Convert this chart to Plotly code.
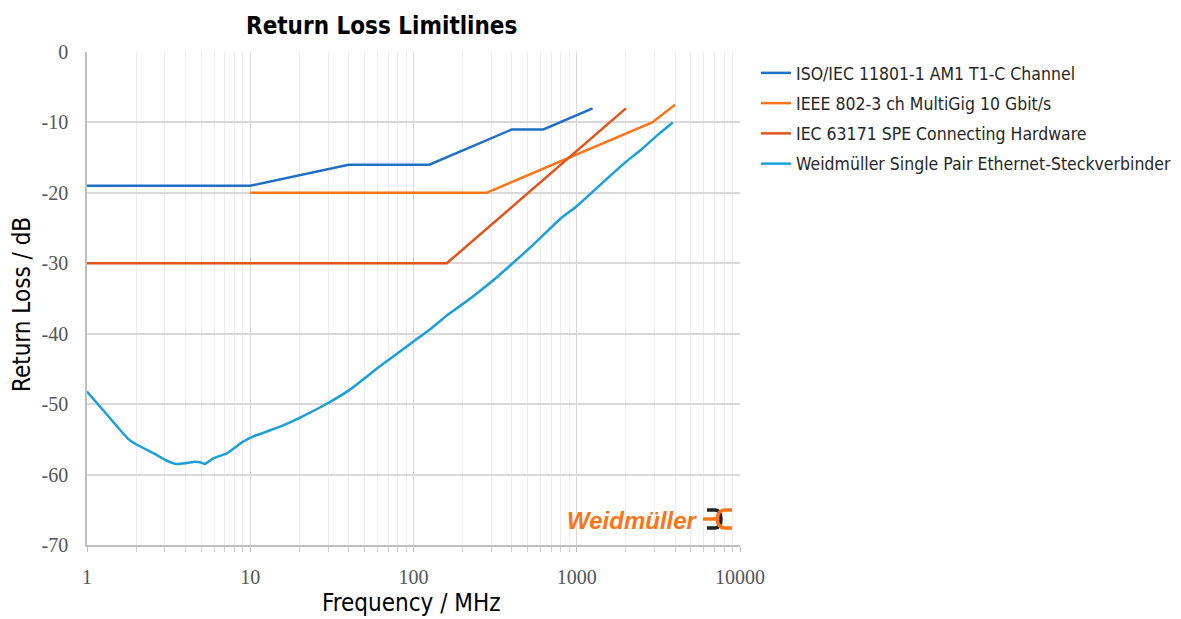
import plotly.graph_objects as go

# ---- data ----
iso_f = [1, 10, 40, 125, 400, 625, 1250]
iso_rl = [-19, -19, -16, -16, -11, -11, -8]

ieee_f = [10, 280, 2900, 4000]
ieee_rl = [-20, -20, -10, -7.5]

iec_f = [1, 160, 2000]
iec_rl = [-30, -30, -8]

wm_f = [1, 1.26, 1.67, 1.8, 2.0, 2.67, 3.0, 3.54, 4.0, 4.48, 5.0, 5.28, 5.94, 7.17, 9.06, 10.4,
        12.6, 15.2, 20.2, 30.2, 41, 62.5, 100, 126, 160, 200, 250, 316, 400, 500, 630, 800,
        1000, 1260, 1600, 2000, 2500, 3160, 3875]
wm_rl = [-48.2, -50.9, -54.2, -55.0, -55.7, -57.2, -57.9, -58.5, -58.4, -58.2, -58.3, -58.5,
         -57.7, -57.0, -55.3, -54.6, -53.9, -53.2, -51.9, -49.8, -47.9, -44.6, -41.1, -39.4,
         -37.4, -35.8, -34.1, -32.2, -30.1, -28.1, -25.9, -23.6, -21.9, -19.8, -17.6, -15.6,
         -13.8, -11.7, -10.0]

names = ["ISO/IEC 11801-1 AM1 T1-C Channel",
         "IEEE 802-3 ch MultiGig 10 Gbit/s",
         "IEC 63171 SPE Connecting Hardware",
         "Weidmüller Single Pair Ethernet-Steckverbinder"]
colors = ["#1F6FC5", "#FF7417", "#E0541B", "#1A9FD9"]

x_ticks = [1, 10, 100, 1000, 10000]
x_ticklabels = ["1", "10", "100", "1000", "10000"]
x_minor = [m * d for d in [1, 10, 100, 1000] for m in range(2, 10)]
y_ticks = [0, -10, -20, -30, -40, -50, -60, -70]
y_ticklabels = ["0", "-10", "-20", "-30", "-40", "-50", "-60", "-70"]

NARROW = "Liberation Sans Narrow, Arial Narrow, DejaVu Sans Condensed, sans-serif"
SERIF = "Liberation Serif, DejaVu Serif, serif"

fig = go.Figure()
for i, (f, rl, n, c) in enumerate(zip([iso_f, ieee_f, iec_f, wm_f], [iso_rl, ieee_rl, iec_rl, wm_rl],
                                      names, colors)):
    line = dict(color=c, width=2.5)
    if i == 3:
        line.update(shape="spline", smoothing=0.5)
    fig.add_trace(go.Scatter(x=f, y=rl, name=n, mode="lines", line=line, legendgroup=n))

# page offset (default body margin of the html page)
OFF = 8
FIG_W, FIG_H = 1181 - OFF, 619 - OFF
# plot area in page pixels
L, R, T, B = 87, 740, 52, 545
W, H = R - L, B - T


def px(x):
    return (x - L) / W


def py(y):
    return (B - y) / H


fig.update_layout(
    width=FIG_W, height=FIG_H,
    margin=dict(l=L - OFF, r=FIG_W - (R - OFF), t=T - OFF, b=FIG_H - (B - OFF), autoexpand=False),
    paper_bgcolor="white", plot_bgcolor="white",
    showlegend=True,
    legend=dict(x=px(756), y=py(55), xanchor="left", yanchor="top",
                font=dict(family=NARROW, size=17.5, color="#262626"),
                tracegroupgap=4.5, bgcolor="rgba(0,0,0,0)"),
    xaxis=dict(type="log", range=[0, 4], tickmode="array", tickvals=x_ticks,
               ticktext=x_ticklabels, showgrid=True, gridcolor="#d9d9d9", gridwidth=1,
               showline=True, linecolor="#bfbfbf", linewidth=1.5,
               ticks="outside", ticklen=5, tickcolor="#bfbfbf",
               tickfont=dict(family=SERIF, size=20, color="#555555"),
               ticklabelstandoff=8,
               minor=dict(tickmode="array", tickvals=x_minor, showgrid=True,
                          gridcolor="#ededed", gridwidth=1, ticks="outside",
                          ticklen=5, tickcolor="#d0d0d0"),
               zeroline=False),
    yaxis=dict(range=[-70, 0], tickmode="array", tickvals=y_ticks, ticktext=y_ticklabels,
               showgrid=True, gridcolor="#d9d9d9", gridwidth=1.5,
               showline=True, linecolor="#bfbfbf", linewidth=1.5,
               ticks="", tickfont=dict(family=SERIF, size=20, color="#555555"),
               ticklabelstandoff=13, zeroline=False),
)

annotations = [
    dict(text="<b>Return Loss Limitlines</b>", x=px(381), y=py(26), xref="paper", yref="paper",
         showarrow=False, xanchor="center", yanchor="middle",
         font=dict(family=NARROW, size=24, color="black")),
    dict(text="Return Loss / dB", x=px(22), y=py(305), xref="paper", yref="paper",
         showarrow=False, textangle=-90, xanchor="center", yanchor="middle",
         font=dict(family=NARROW, size=24, color="black")),
    dict(text="Frequency / MHz", x=px(411), y=py(603), xref="paper", yref="paper",
         showarrow=False, xanchor="center", yanchor="middle",
         font=dict(family=NARROW, size=24, color="black")),
    dict(text="<b><i>Weidmüller</i></b>", x=px(700), y=py(520), xref="paper", yref="paper",
         showarrow=False, xanchor="right", yanchor="middle",
         font=dict(family="Liberation Sans, Arial, sans-serif", size=24, color="#FF7417")),
]
fig.update_layout(annotations=annotations)


def path(points):
    s = ""
    for cmd, pts in points:
        s += cmd + " ".join(f"{px(a):.5f},{py(b):.5f}" for a, b in pts) + " "
    return s.strip()


# logo symbol
black = path([("M", [(707, 510)]), ("L", [(715, 510)]), ("Q", [(721, 510), (721, 519)]),
              ("Q", [(721, 528), (715, 528)]), ("L", [(707, 528)])])
orange_top = path([("M", [(732, 510)]), ("L", [(725, 510)]), ("Q", [(718, 510), (717, 519)])])
orange_bot = path([("M", [(732, 528)]), ("L", [(725, 528)]), ("Q", [(718, 528), (717, 519)])])
orange_mid = path([("M", [(703, 519)]), ("L", [(717, 519)])])
shapes = [
    dict(type="path", path=black, xref="paper", yref="paper", line=dict(color="#222222", width=3.5)),
    dict(type="path", path=orange_top, xref="paper", yref="paper", line=dict(color="#FF7417", width=3.5)),
    dict(type="path", path=orange_bot, xref="paper", yref="paper", line=dict(color="#FF7417", width=3.5)),
    dict(type="path", path=orange_mid, xref="paper", yref="paper", line=dict(color="#FF7417", width=3.5)),
]
fig.update_layout(shapes=shapes)

fig.write_html("out.html")
